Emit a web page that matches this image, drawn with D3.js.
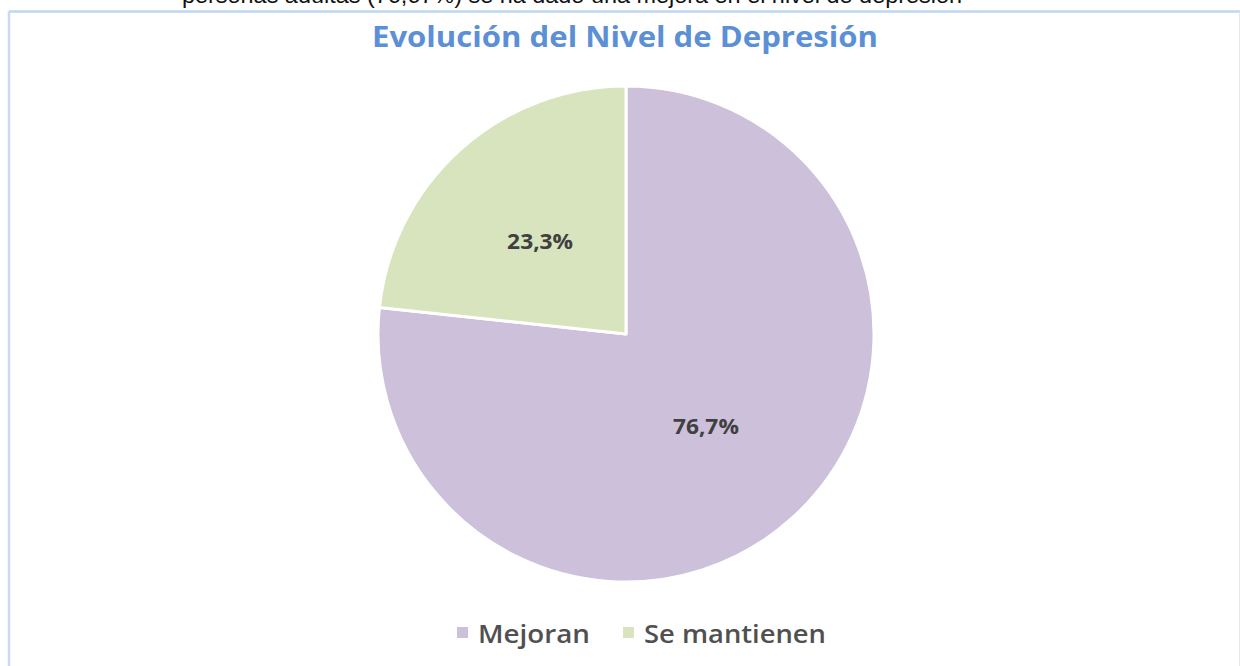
<!DOCTYPE html>
<html><head><meta charset="utf-8">
<script src="https://cdn.jsdelivr.net/npm/d3@7"></script>
<style>html,body{margin:0;padding:0;background:#fff;overflow:hidden}</style>
</head><body>
<svg id="c" width="1240" height="666"></svg>
<script>
const categories = ["Mejoran", "Se mantienen"];
const values = [76.7, 23.3];
const labels = ["76,7%", "23,3%"];
const colors = ["#CCC0DA", "#D7E4BD"];
const titleText = "Evolución del Nivel de Depresión";
const clippedText = "personas adultas (76,67%) se ha dado una mejora en el nivel de depresión";

const svg = d3.select("#c");
const font = "'Open Sans', Lato, 'DejaVu Sans', sans-serif";

// clipped paragraph text at very top
svg.append("text").attr("x", 182).attr("y", 3)
  .attr("font-family", "'Liberation Sans', Arial, sans-serif").attr("font-size", 22)
  .attr("fill", "#111").attr("textLength", 780).attr("lengthAdjust", "spacingAndGlyphs")
  .text(clippedText);

// chart frame
svg.append("rect").attr("x", 0).attr("y", 10).attr("width", 1240).attr("height", 2).attr("fill", "#fff");
svg.append("line").attr("x1", 9).attr("x2", 1240).attr("y1", 11.5).attr("y2", 11.5)
  .attr("stroke", "#BDD7EE").attr("stroke-width", 2.5);
svg.append("line").attr("x1", 9).attr("x2", 9).attr("y1", 11).attr("y2", 666)
  .attr("stroke", "#C9DBF2").attr("stroke-width", 2.5);
svg.append("line").attr("x1", 1239.5).attr("x2", 1239.5).attr("y1", 12).attr("y2", 666)
  .attr("stroke", "#E6E6E6").attr("stroke-width", 1);

// title
svg.append("text").attr("x", 625).attr("y", 47).attr("text-anchor", "middle")
  .attr("font-family", font).attr("font-weight", "bold").attr("font-size", 28)
  .attr("fill", "#5B8FD6").attr("textLength", 506).attr("lengthAdjust", "spacingAndGlyphs")
  .text(titleText);

// pie
const cx = 626, cy = 334, r = 248;
const pie = d3.pie().sort(null).value(d => d)(values);
const arc = d3.arc().innerRadius(0).outerRadius(r);
const g = svg.append("g").attr("transform", `translate(${cx},${cy})`);
g.selectAll("path").data(pie).join("path")
  .attr("d", arc).attr("fill", (d, i) => colors[i])
  .attr("stroke", "#fff").attr("stroke-width", 3).attr("stroke-linejoin", "round");
g.selectAll("text").data(pie).join("text")
  .attr("transform", d => { const c = arc.centroid(d); return `translate(${c[0] - 3},${c[1]})`; })
  .attr("text-anchor", "middle").attr("dy", "0.36em")
  .attr("font-family", font).attr("font-weight", "bold").attr("font-size", 21)
  .attr("fill", "#404040").attr("textLength", 66).attr("lengthAdjust", "spacingAndGlyphs")
  .text((d, i) => labels[i]);

// legend
const legendX = [457, 623];
const legendW = [112, 182];
const lg = svg.append("g");
categories.forEach((c, i) => {
  lg.append("rect").attr("x", legendX[i]).attr("y", 627).attr("width", 11).attr("height", 11).attr("fill", colors[i]);
  lg.append("text").attr("x", legendX[i] + 21).attr("y", 643)
    .attr("font-family", font).attr("font-size", 25).attr("font-weight", 600).attr("fill", "#505050")
    .attr("textLength", legendW[i]).attr("lengthAdjust", "spacingAndGlyphs")
    .text(c);
});
</script>
</body></html>
